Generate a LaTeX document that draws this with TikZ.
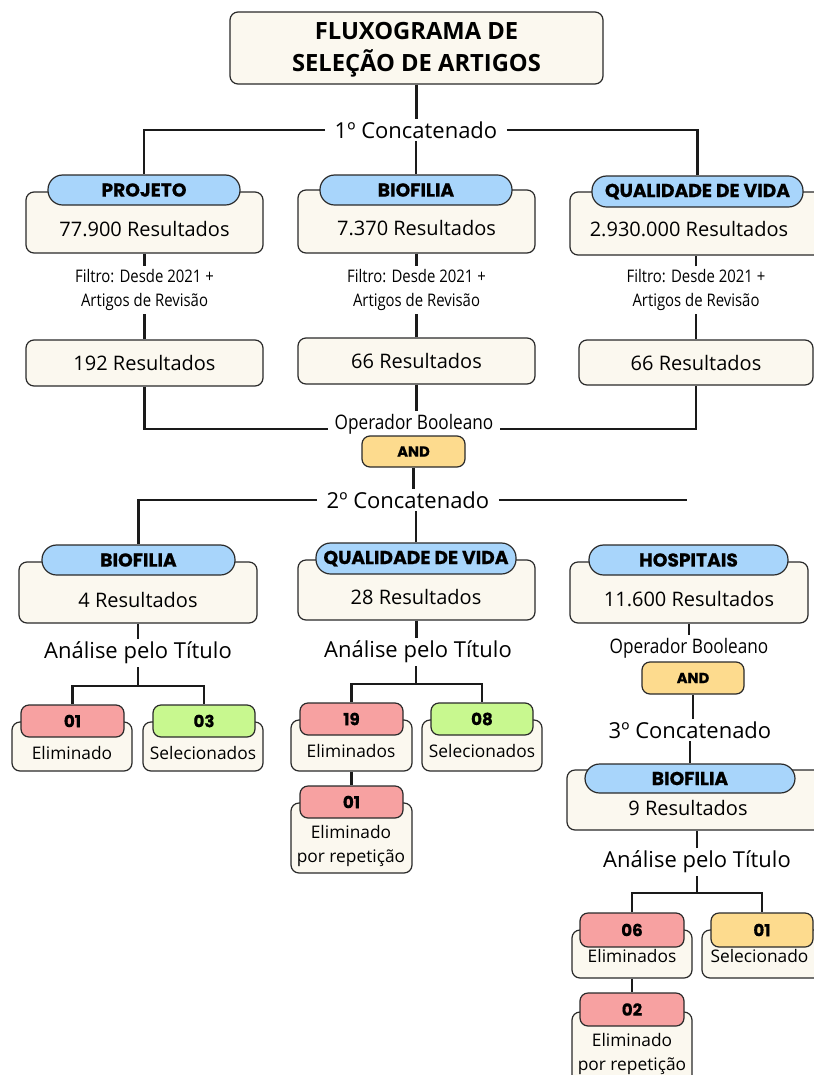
\documentclass[tikz,border=0pt]{standalone}
\usepackage{fontspec}
\setmainfont{Open Sans}
\newfontfamily\popf{Poppins}[BoldFeatures={FakeBold=0.6}]
\newfontfamily\condf{Open Sans}[FakeStretch=0.86]
\usetikzlibrary{fit}
\definecolor{creamc}{HTML}{FBF8EF}
\definecolor{bordc}{HTML}{2A2A2A}
\definecolor{bluec}{HTML}{A8D5FB}
\definecolor{yelc}{HTML}{FDDB8E}
\definecolor{redc}{HTML}{F7A1A1}
\definecolor{grnc}{HTML}{C8F88F}
\definecolor{linec}{HTML}{1A1A1A}
\begin{document}
\begin{tikzpicture}[x=0.75pt,y=-0.75pt,
  box/.style={draw=bordc,line width=0.9pt,fill=creamc,rounded corners=6pt,inner sep=0pt},
  pill/.style={draw=bordc,line width=0.9pt,fill=bluec,rounded corners=11pt,inner sep=0pt},
  pilltxt/.style={inner sep=0pt,font={\popf\bfseries\fontsize{14}{16}\selectfont}},
  tag/.style={draw=bordc,line width=0.9pt,rounded corners=6pt,inner sep=0pt},
  tagtxt/.style={inner sep=0pt,font={\popf\bfseries\fontsize{12.5}{14}\selectfont}},
  andbox/.style={draw=bordc,line width=0.9pt,fill=yelc,rounded corners=6pt,inner sep=0pt},
  andtxt/.style={inner sep=0pt,font={\popf\bfseries\fontsize{11}{13}\selectfont}},
  conc/.style={inner xsep=7pt,inner ysep=2pt,font={\fontsize{16.5}{19}\selectfont}},
  res/.style={inner sep=2pt,font={\fontsize{15}{18}\selectfont}},
  filt/.style={align=center,inner sep=2pt,font={\condf\fontsize{13}{18}\selectfont}},
  ob/.style={inner xsep=5pt,inner ysep=2pt,font={\condf\fontsize{15}{17}\selectfont}},
  ana/.style={inner sep=2pt,font={\fontsize{16.5}{19}\selectfont}},
  sm/.style={inner sep=1pt,font={\fontsize{13}{18}\selectfont}},
  conn/.style={draw=linec,line width=1.7pt}
]
\fill[white] (0,0) rectangle (814,1075);
\useasboundingbox (0,0) rectangle (814,1075);

% title
\node[box, fit={(230,12) (603,84)}] (title) {};
\node[align=center, inner sep=0pt, font={\bfseries\fontsize{17.8}{24}\selectfont}] (titlet) at ([yshift=-1pt]title.center) {FLUXOGRAMA DE\\SELEÇÃO DE ARTIGOS};
\node[conc] (c1) at (416,130) {1º Concatenado};

% row 1
\node[box, fit={(26,192) (263,253)}] (b1) {};
\node[pill, fit={(48,175) (240,205)}] (p1) {};
\node[pilltxt] (p1t) at (p1.center) {PROJETO};
\node[res] (r1) at (144.5,229) {77.900 Resultados};
\node[box, fit={(298,190) (535,253)}] (b2) {};
\node[pill, fit={(320,175) (512,205)}] (p2) {};
\node[pilltxt] (p2t) at (p2.center) {BIOFILIA};
\node[res] (r2) at (416.5,228) {7.370 Resultados};
\node[box, fit={(570,192) (822,255)}] (b3) {};
\node[pill, fit={(592,176) (803,207)}] (p3) {};
\node[pilltxt] (p3t) at (p3.center) {QUALIDADE DE VIDA};
\node[res] (r3) at (689,229) {2.930.000 Resultados};

\node[filt] (f1) at (144.5,290) {Filtro: Desde 2021 +\\Artigos de Revisão};
\node[filt] (f2) at (416.5,290) {Filtro: Desde 2021 +\\Artigos de Revisão};
\node[filt] (f3) at (696,290) {Filtro: Desde 2021 +\\Artigos de Revisão};

\node[box, fit={(26,340) (263,386)}] (s1) {};
\node[res] (s1t) at (s1.center) {192 Resultados};
\node[box, fit={(298,338) (535,384)}] (s2) {};
\node[res] (s2t) at (s2.center) {66 Resultados};
\node[box, fit={(579,340) (813,385)}] (s3) {};
\node[res] (s3t) at (s3.center) {66 Resultados};

\node[ob] (ob1) at (414,424) {Operador Booleano};
\node[andbox, fit={(362,436) (465,467)}] (and1) {};
\node[andtxt] (and1t) at (and1.center) {AND};
\node[conc] (c2) at (408,500) {2º Concatenado};
\coordinate (c2r) at (687,500);

% connectors row 1
\draw[conn] (title.south) -- (title.south |- c1.north);
\draw[conn] (c1.west) -| (p1.north);
\draw[conn] (c1.east) -| (p3.north);
\draw[conn] (c1.south) -- (c1.south |- p2.north);
\draw[conn] (b1.south) -- (b1.south |- f1.north);
\draw[conn] (b2.south) -- (b2.south |- f2.north);
\draw[conn] (f3.north) -- (f3.north |- b3.south);
\draw[conn] (s1.north) -- (s1.north |- f1.south);
\draw[conn] (s2.north) -- (s2.north |- f2.south);
\draw[conn] (s3.north) -- (s3.north |- f3.south);
\draw[conn] (s1.south) |- (ob1.base west);
\draw[conn] (s3.south) |- (ob1.base east);
\draw[conn] (s2.south) -- (s2.south |- ob1.north);
\draw[conn] (and1.south) -- (and1.south |- c2.north);
\draw[conn] (c2.east) -- (c2r);

% row 2 left
\node[box, fit={(19,562) (257,623)}] (b4) {};
\node[pill, fit={(42,545) (235,575)}] (p4) {};
\node[pilltxt] (p4t) at (p4.center) {BIOFILIA};
\node[res] (r4) at (138,600) {4 Resultados};
\node[ana] (a1) at (138,653) {Análise pelo Título};
\coordinate (j1) at (138,686);
\node[box, fit={(12,722) (132,771)}] (e1) {};
\node[tag, fill=redc, fit={(21,705) (124,737)}] (n1) {};
\node[tagtxt] (n1t) at (n1.center) {01};
\node[sm] (t1) at (72,753) {Eliminado};
\node[box, fit={(143,722) (263,771)}] (e2) {};
\node[tag, fill=grnc, fit={(153,705) (255,737)}] (n2) {};
\node[tagtxt] (n2t) at (n2.center) {03};
\node[sm] (t2) at (203,753) {Selecionados};
\draw[conn] (c2.west) -| (p4.north);
\draw[conn] (b4.south) -- (b4.south |- a1.north);
\draw[conn] (a1.south) -- (j1);
\draw[conn] (n1.north) |- (j1) -| (n2.north);

% row 2 middle
\node[box, fit={(298,560) (535,620)}] (b5) {};
\node[pill, fit={(316,543) (516,574)}] (p5) {};
\node[pilltxt] (p5t) at (p5.center) {QUALIDADE DE VIDA};
\node[res] (r5) at (416,597) {28 Resultados};
\node[ana] (a2) at (418,652) {Análise pelo Título};
\coordinate (j2) at (416,684);
\node[box, fit={(291,720) (412,771)}] (e3) {};
\node[tag, fill=redc, fit={(300,703) (403,735)}] (n3) {};
\node[tagtxt] (n3t) at (n3.center) {19};
\node[sm] (t3) at (351,751) {Eliminados};
\node[box, fit={(422,720) (542,771)}] (e4) {};
\node[tag, fill=grnc, fit={(431,703) (533,735)}] (n4) {};
\node[tagtxt] (n4t) at (n4.center) {08};
\node[sm] (t4) at (482,751) {Selecionados};
\node[box, fit={(291,803) (412,873)}] (e5) {};
\node[tag, fill=redc, fit={(300,786) (403,818)}] (n5) {};
\node[tagtxt] (n5t) at (n5.center) {01};
\node[sm, align=center] (t5) at (351,846) {Eliminado\\por repetição};
\draw[conn] (p5.north) -- (p5.north |- c2.south);
\draw[conn] (b5.south) -- (b5.south |- a2.north);
\draw[conn] (j2 |- a2.south) -- (j2);
\draw[conn] (n3.north) |- (j2) -| (n4.north);
\draw[conn] (e3.south) -- (n5.north);

% row 2 right
\node[box, fit={(570,562) (808,623)}] (b6) {};
\node[pill, fit={(589,545) (788,575)}] (p6) {};
\node[pilltxt] (p6t) at (p6.center) {HOSPITAIS};
\node[res] (r6) at (689,599) {11.600 Resultados};
\node[ob] (ob2) at (689,648) {Operador Booleano};
\node[andbox, fit={(642,662) (744,694)}] (and2) {};
\node[andtxt] (and2t) at (and2.center) {AND};
\node[conc] (c3) at (690,730) {3º Concatenado};
\node[box, fit={(567,770) (822,830)}] (b7) {};
\node[pill, fit={(585,764) (795,793)}] (p7) {};
\node[pilltxt] (p7t) at (p7.center) {BIOFILIA};
\node[res] (r7) at (688,808) {9 Resultados};
\node[ana] (a3) at (697,862) {Análise pelo Título};
\coordinate (j3) at (697,893);
\node[box, fit={(572,930) (692,978)}] (e6) {};
\node[tag, fill=redc, fit={(580,913) (684,947)}] (n6) {};
\node[tagtxt] (n6t) at (n6.center) {06};
\node[sm] (t6) at (632,956) {Eliminados};
\node[box, fit={(702,930) (830,978)}] (e7) {};
\node[tag, fill=yelc, fit={(711,913) (813,947)}] (n7) {};
\node[tagtxt] (n7t) at (n7.center) {01};
\node[sm, anchor=west] (t7) at (709,956) {Selecionado};
\node[box, fit={(572,1012) (692,1090)}] (e8) {};
\node[tag, fill=redc, fit={(580,993) (684,1026)}] (n8) {};
\node[tagtxt] (n8t) at (n8.center) {02};
\node[sm, align=center] (t8) at (632,1054) {Eliminado\\por repetição};
\draw[conn] (b6.south) -- (b6.south |- ob2.north);
\draw[conn] (and2.south) -- (and2.south |- c3.north);
\draw[conn] (p7.north) -- (p7.north |- c3.south);
\draw[conn] (a3.north) -- (a3.north |- b7.south);
\draw[conn] (a3.south) -- (j3);
\draw[conn] (n6.north) |- (j3) -| (n7.north);
\draw[conn] (e6.south) -- (n8.north);
\end{tikzpicture}
\end{document}
